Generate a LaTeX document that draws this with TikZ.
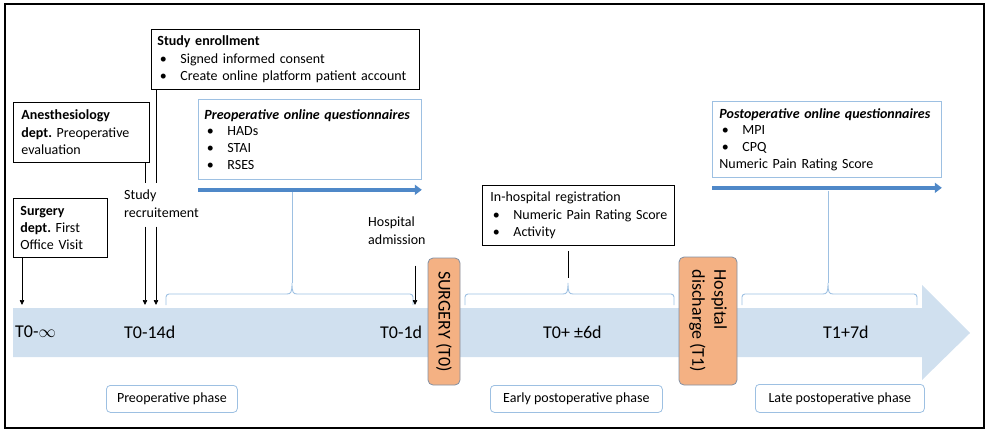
\documentclass[tikz,border=0pt]{standalone}
\usepackage{fontspec}
\setmainfont{Carlito}
\usetikzlibrary{arrows.meta,calc}
\definecolor{bandc}{HTML}{D0E0EF}
\definecolor{qline}{HTML}{9DC0E2}
\definecolor{qarrowc}{HTML}{4F88C8}
\definecolor{evfill}{HTML}{F4B183}
\definecolor{evline}{HTML}{8290A4}
\newcommand{\bl}{\hspace*{2.5pt}\makebox[20.5pt][l]{•}}
% one phase bracket: left x, right x, peak x
\newcommand{\phasebrace}[3]{%
  \draw[brace,rounded corners=3pt] (#1,305) -- (#1,294) -- (#3-5,294);
  \draw[brace] (#3-5,294) .. controls (#3-1,294) and (#3,292) .. (#3,283)
                          .. controls (#3,292) and (#3+1,294) .. (#3+5,294);
  \draw[brace,rounded corners=3pt] (#3+5,294) -- (#2,294) -- (#2,305);
}
\begin{document}
\frenchspacing
\begin{tikzpicture}[x=1pt,y=-1pt,
  txt/.style={font=\fontsize{14}{17.3}\selectfont},
  infobox/.style={txt, draw=black, line width=0.8pt, fill=white, anchor=north west,
                  align=left, inner xsep=6pt, inner ysep=3pt},
  qbox/.style={infobox, draw=qline, font=\fontsize{14}{16.6}\selectfont},
  phasebox/.style={txt, draw=qline, line width=0.8pt, rounded corners=4pt, fill=white,
                   minimum height=27pt, inner xsep=0pt, anchor=north west},
  eventbox/.style={draw=evline, fill=evfill, rounded corners=5pt, line width=0.8pt,
                   rotate=-90, align=left, inner sep=0pt,
                   font=\fontsize{18}{22}\selectfont},
  tlabel/.style={font=\fontsize{18}{22}\selectfont, anchor=west, inner sep=0pt},
  plain/.style={txt, align=left, anchor=north west, inner sep=0pt},
  tick/.style={draw=black, line width=0.7pt, -{Triangle[length=5pt,width=4.5pt]}},
  stem/.style={draw=black, line width=0.7pt},
  brace/.style={draw=qline, line width=0.9pt},
  qarrow/.style={draw=qarrowc, line width=4pt, -{Triangle[length=7pt,width=10pt]}}]

\useasboundingbox (0,0) rectangle (988,432);

% timeline band with arrow head
\fill[bandc] (13,308) -- (922,308) -- (922,285) -- (970,333) -- (922,380)
             -- (922,357) -- (13,357) -- cycle;

% phase brackets above the band
\phasebrace{166}{413}{292}
\phasebrace{465}{674}{568}
\phasebrace{742}{917}{828}

% information boxes
\node[infobox, text width=256pt, minimum height=60pt] (enroll) at (151,29)
  {\textbf{Study enrollment}\\\bl Signed informed consent\\\bl Create online platform patient account};
\node[infobox, inner xsep=8pt, text width=120pt, minimum height=60pt] (anesth) at (13,102)
  {\textbf{Anesthesiology}\\\textbf{dept.} Preoperative\\evaluation};
\node[infobox, inner xsep=7pt, text width=80pt, minimum height=59pt] (surg) at (13,198)
  {\textbf{Surgery}\\\textbf{dept.} First\\Office Visit};
\node[qbox, text width=211pt, minimum height=80pt] (preq) at (198,99)
  {\textbf{\textit{Preoperative online questionnaires}}\\\bl HADs\\\bl STAI\\\bl RSES};
\node[infobox, inner xsep=8pt, text width=176pt, minimum height=60pt] (inhosp) at (482,185)
  {In-hospital registration\\\bl\mbox{Numeric Pain Rating Score}\\\bl Activity};
\node[qbox, inner xsep=7pt, text width=215pt, minimum height=76pt] (postq) at (712,101)
  {\textbf{\textit{Postoperative online questionnaires}}\\\bl MPI\\\bl CPQ\\Numeric Pain Rating Score};

% free labels
\node[plain] (studyrec) at (124,190) {Study\\recruitement};
\node[plain] (hospadm) at (368,217) {Hospital\\admission};

% arrival points on the timeline
\coordinate (tS) at (22,305);
\coordinate (tA) at (145,305);
\coordinate (tE) at (156,305);
\coordinate (tH) at (415,305);
\coordinate (prePk) at (292,283);
\coordinate (earlyPk) at (568,283);
\coordinate (latePk) at (828,283);

\draw[tick] (surg.south -| tS) -- (tS);
\draw[stem] (anesth.south -| tA) -- ($(studyrec.north -| tA)+(0,-7)$);
\draw[stem] (enroll.south -| tE) -- ($(studyrec.north -| tE)+(0,-7)$);
\draw[tick] ($(studyrec.south -| tA)+(0,9)$) -- (tA);
\draw[tick] ($(studyrec.south -| tE)+(0,9)$) -- (tE);
\draw[tick] ($(hospadm.south -| tH)+(0,21)$) -- (tH);

% questionnaire periods
\draw[qarrow] ($(preq.south west)+(0,10)$) -- ($(preq.south east)+(0,10)$);
\draw[qarrow] ($(postq.south west)+(0,10)$) -- ($(postq.south east)+(0,10)$);
\coordinate (preLow) at ($(preq.south)+(0,12)$);
\coordinate (postLow) at ($(postq.south)+(0,13)$);
\draw[brace] (preLow -| prePk) -- (prePk);
\draw[brace] (postLow -| latePk) -- (latePk);
\draw[stem] ($(inhosp.south -| earlyPk)+(0,5)$) -- ($(earlyPk)+(0,-5)$);

% time points
\node[tlabel] (t0inf) at (15,332) {T0-$\infty$};
\node[tlabel] (t014) at (124,332) {T0-14d};
\node[tlabel] (t01) at (380,332) {T0-1d};
\node[tlabel] (t06) at (543,332) {T0+ ±6d};
\node[tlabel] (t17) at (823,332) {T1+7d};

% events
\node[eventbox, minimum width=127pt, minimum height=32pt] (surgery) at (444,321.5) {SURGERY (T0)};
\node[eventbox, minimum width=128pt, minimum height=58pt] (discharge) at (708,321) {Hospital\\discharge (T1)};

% phases
\node[phasebox, minimum width=131pt] (preph) at (106,385) {Preoperative phase};
\node[phasebox, minimum width=172pt] (earlyph) at (490,385) {Early postoperative phase};
\node[phasebox, minimum width=169pt, minimum height=28pt] (lateph) at (755,384) {Late postoperative phase};

% outer frame
\draw[line width=2pt] (5,4) rectangle (984,428);
\end{tikzpicture}
\end{document}
